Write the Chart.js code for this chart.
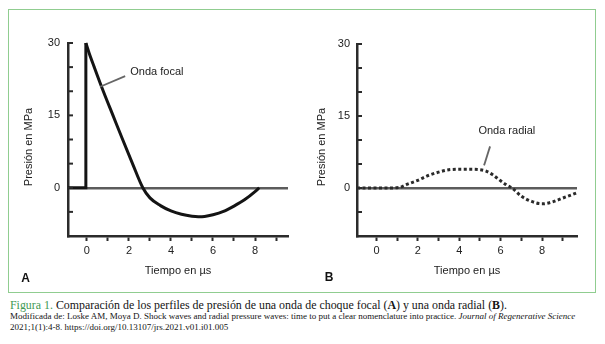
<!DOCTYPE html>
<html>
<head>
<meta charset="utf-8">
<script src="https://cdn.jsdelivr.net/npm/chart.js@4"></script>
<style>
    body { margin: 0; width: 605px; height: 344px; background: #fff; position: relative; overflow: hidden }
    #frame { position: absolute; left: 8px; top: 9px; width: 588px; height: 284px; box-sizing: border-box; border: 1.5px solid #90cd90 }
    #chartA { position: absolute; left: 0; top: 0 }
    #chartB { position: absolute; left: 300px; top: 0 }
    .cap { position: absolute; left: 10px; white-space: nowrap; font-family: "Liberation Serif", "DejaVu Serif", serif; color: #141414 }
    .cap1 { top: 298px; font-size: 11.9px }
    .cap2 { top: 311px; font-size: 9px }
    .cap3 { top: 322px; font-size: 9px }
    .fig { color: #3f9a55 }
</style>
</head>
<body>
<div id="frame"></div>
<canvas id="chartA" width="300" height="290"></canvas>
<canvas id="chartB" width="305" height="290"></canvas>
<div class="cap cap1"><span class="fig">Figura 1.</span> Comparación de los perfiles de presión de una onda de choque focal (<b>A</b>) y una onda radial (<b>B</b>).</div>
<div class="cap cap2">Modificada de: Loske AM, Moya D. Shock waves and radial pressure waves: time to put a clear nomenclature into practice. <i>Journal of Regenerative Science</i></div>
<div class="cap cap3">2021;1(1):4-8. https://doi.org/10.13107/jrs.2021.v01.i01.005</div>

<script>
// tick positions and labels (same on both panels)
const yTicks = [-10, -5, 0, 5, 10, 15, 20, 25, 30]
const yLabels = [0, 15, 30]
const xTicks = [0, 1, 2, 3, 4, 5, 6, 7, 8, 9]
const xLabels = [0, 2, 4, 6, 8]

// A: onda focal -- flat, steep front, then decay with negative phase
const focalFrontX = [-0.9, -0.07, -0.05]
const focalFrontY = [0, 0, 30]
const focalX = [-0.05, 0.1, 0.35, 0.78, 1.24, 1.7, 2.17, 2.66, 3.0, 3.5, 4.0, 4.5, 5.0, 5.3, 5.6, 6.0, 6.5, 7.0, 7.5, 8.0, 8.2]
const focalY = [30, 28, 25, 20, 15, 10, 5, 0, -2.1, -3.7, -4.8, -5.5, -5.9, -6.0, -5.95, -5.6, -4.9, -3.8, -2.5, -0.8, 0]

// B: onda radial
const radialX = [-0.94, 0.5, 1.1, 1.5, 2, 2.5, 3, 3.5, 4, 4.5, 5, 5.3, 5.6, 6, 6.3, 6.55, 7, 7.5, 8, 8.5, 9, 9.69]
const radialY = [0, 0, 0.1, 0.8, 1.6, 2.6, 3.3, 3.8, 3.9, 3.9, 3.8, 3.5, 2.8, 1.5, 0.6, 0, -1.7, -2.8, -3.3, -2.9, -2.1, -1.0]

const INK = '#222'
const AXIS = '#2b2b2b'
const FONT = {family: '"Liberation Sans", Arial, sans-serif', size: 11}

const toPoints = (xs, ys) => xs.map((x, i) => ({x: x, y: ys[i]}))

// inward y ticks, rotated y title, panel letter and the callout with its pointer
const panelDecor = {
    id: 'panelDecor',
    afterDraw(chart, args, o) {
        const {ctx, chartArea, scales: {x, y}} = chart
        ctx.save()
        ctx.strokeStyle = AXIS
        ctx.lineWidth = 2
        y.ticks.forEach(t => {
            if (t.value === y.min) return
            const py = y.getPixelForValue(t.value)
            ctx.beginPath()
            ctx.moveTo(chartArea.left, py)
            ctx.lineTo(chartArea.left + 5, py)
            ctx.stroke()
        })

        ctx.fillStyle = INK
        ctx.font = `11px ${FONT.family}`
        ctx.textAlign = 'center'
        ctx.textBaseline = 'middle'
        ctx.save()
        ctx.translate(o.yTitle[0], o.yTitle[1])
        ctx.rotate(-Math.PI / 2)
        ctx.fillText('Presión en MPa', 0, 0)
        ctx.restore()

        ctx.fillText(o.note, x.getPixelForValue(o.noteAt[0]), y.getPixelForValue(o.noteAt[1]))
        ctx.strokeStyle = '#666'
        ctx.lineWidth = 1.8
        ctx.beginPath()
        ctx.moveTo(x.getPixelForValue(o.pointer[0]), y.getPixelForValue(o.pointer[1]))
        ctx.lineTo(x.getPixelForValue(o.pointer[2]), y.getPixelForValue(o.pointer[3]))
        ctx.stroke()

        ctx.font = `bold 12px ${FONT.family}`
        ctx.fillStyle = '#111'
        ctx.fillText(o.letter, o.letterAt[0], o.letterAt[1])
        ctx.restore()
    }
}

function makePanel(id, datasets, xMin, xMax, yAxisWidth, labelPad, padding, decor) {
    return new Chart(document.getElementById(id), {
        type: 'line',
        data: {datasets: datasets},
        options: {
            responsive: false,
            animation: false,
            devicePixelRatio: 1,
            layout: {padding: padding},
            plugins: {legend: {display: false}, tooltip: {enabled: false}, panelDecor: decor},
            scales: {
                x: {
                    type: 'linear', min: xMin, max: xMax,
                    afterBuildTicks: s => { s.ticks = xTicks.map(v => ({value: v})) },
                    afterFit: s => { s.height = 45 },
                    grid: {drawOnChartArea: false, drawTicks: true, tickLength: 5, tickColor: AXIS, tickWidth: 2},
                    border: {color: AXIS, width: 2.5},
                    ticks: {
                        callback: v => xLabels.includes(v) ? String(v) : '',
                        padding: 3, color: INK, font: FONT, maxRotation: 0, autoSkip: false
                    },
                    title: {display: true, text: 'Tiempo en µs', color: INK, font: FONT, padding: {top: 0, bottom: 3}}
                },
                y: {
                    type: 'linear', min: -10, max: 30,
                    afterBuildTicks: s => { s.ticks = yTicks.map(v => ({value: v})) },
                    afterFit: s => { s.width = yAxisWidth },
                    grid: {
                        drawTicks: false, lineWidth: 2.4,
                        color: c => c.tick && c.tick.value === 0 ? '#5c5c5c' : 'rgba(0,0,0,0)'
                    },
                    border: {color: AXIS, width: 2.5},
                    ticks: {
                        callback: v => yLabels.includes(v) ? String(v) : '',
                        padding: labelPad, color: INK, font: FONT, autoSkip: false
                    }
                }
            }
        },
        plugins: [panelDecor]
    })
}

const solid = {borderColor: '#141414', borderWidth: 3, pointRadius: 0, fill: false, clip: 6}

makePanel('chartA', [
    {...solid, data: toPoints(focalFrontX, focalFrontY), tension: 0, borderJoinStyle: 'miter'},
    {...solid, data: toPoints(focalX, focalY), cubicInterpolationMode: 'monotone'}
], -0.9, 9.57, 68, 8, {top: 43, left: 0, right: 12, bottom: 9}, {
    yTitle: [29, 147], letter: 'A', letterAt: [25.5, 279],
    note: 'Onda focal', noteAt: [3.33, 24.05], pointer: [1.82, 23.15, 0.63, 20.94]
})

makePanel('chartB', [
    {
        data: toPoints(radialX, radialY), borderColor: '#2a2a2a', borderWidth: 3, borderDash: [3, 2.5],
        pointRadius: 0, fill: false, cubicInterpolationMode: 'monotone', clip: 6
    }
], -0.94, 9.69, 57, 7, {top: 44, left: 0, right: 28, bottom: 9}, {
    yTitle: [21.5, 147], letter: 'B', letterAt: [29, 278],
    note: 'Onda radial', noteAt: [6.3, 11.8], pointer: [5.49, 8.67, 5.2, 4.71]
})
</script>
</body>
</html>
